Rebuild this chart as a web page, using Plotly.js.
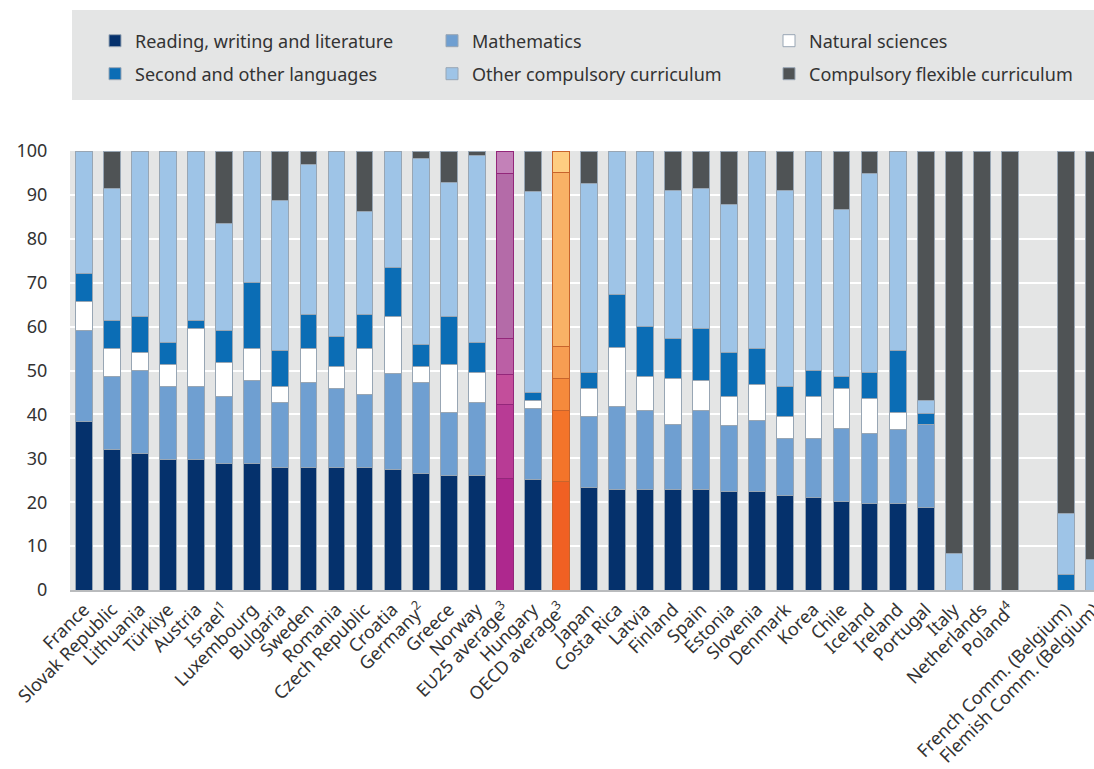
<!DOCTYPE html>
<html>
<head>
<meta charset="utf-8">
<script src="https://cdn.plot.ly/plotly-3.0.1.min.js"></script>
<style>html,body{margin:0;padding:0;background:#fff;}#chart{width:1094px;height:769px;}</style>
</head>
<body>
<div id="chart"></div>
<script>
// Categories (a blank slot separates Poland from the Belgian communities)
const categories = ["France","Slovak Republic","Lithuania","Türkiye","Austria","Israel<sup>1</sup>","Luxembourg","Bulgaria","Sweden","Romania","Czech Republic","Croatia","Germany<sup>2</sup>","Greece","Norway","EU25 average<sup>3</sup>","Hungary","OECD average<sup>3</sup>","Japan","Costa Rica","Latvia","Finland","Spain","Estonia","Slovenia","Denmark","Korea","Chile","Iceland","Ireland","Portugal","Italy","Netherlands","Poland<sup>4</sup>"," ","French Comm. (Belgium)","Flemish Comm. (Belgium)"];

// Share of instruction time (%) by subject
const reading   = [38.3,32.0,31.1,29.7,29.7,28.8,28.8,27.9,27.9,27.9,27.9,27.4,26.5,26.0,26.0,25.5,25.1,24.7,23.3,22.9,22.9,22.9,22.9,22.4,22.4,21.5,21.0,20.1,19.7,19.7,18.8,null,null,null,null,null,null];
const mathematics = [20.7,16.6,18.9,16.7,16.7,15.3,18.9,14.8,19.4,18.0,16.6,22.0,20.7,14.5,16.7,16.8,16.2,16.3,16.2,18.9,18.0,14.9,18.0,15.0,16.3,13.1,13.6,16.8,15.9,16.8,19.0,null,null,null,null,null,null];
const sciences  = [6.7,6.3,4.1,4.9,13.1,7.7,7.2,3.7,7.6,4.9,10.4,12.8,3.7,10.8,6.9,6.7,1.8,7.2,6.4,13.5,7.7,10.4,6.8,6.7,8.1,4.9,9.5,9.0,8.1,4.0,null,null,null,null,null,null,null];
const languages = [6.5,6.4,8.1,5.1,1.8,7.2,15.1,8.1,7.8,6.9,7.8,11.3,5.0,10.9,6.8,8.2,1.9,7.2,3.7,11.9,11.4,9.0,11.8,10.1,8.1,6.9,5.9,2.7,5.9,14.0,2.3,null,null,null,null,3.5,null];
const otherCompulsory = [27.8,30.2,37.8,43.6,38.7,24.5,30.0,34.3,34.3,42.3,23.5,26.5,42.5,30.7,42.5,37.6,45.7,39.7,42.9,32.8,40.0,33.9,32.0,33.7,45.1,44.7,50.0,38.0,45.2,45.5,3.1,8.4,null,null,null,13.9,6.9];
const flexible  = [null,8.5,null,null,null,16.5,null,11.2,3.0,null,13.8,null,1.6,7.1,1.1,5.2,9.3,4.9,7.5,null,null,8.9,8.5,12.1,null,8.9,null,13.4,5.2,null,56.8,91.6,100,100,null,82.6,93.1];

const seriesNames = ["Reading, writing and literature","Mathematics","Natural sciences","Second and other languages","Other compulsory curriculum","Compulsory flexible curriculum"];
const baseColors  = ["#05316c","#6f9fd1","#ffffff","#0b6db5","#9ec4e7","#4f5355"];
const euColors    = ["#ae288e","#b83b95","#c34e9b","#bb5fa5","#b46ba8","#c381b8"];
const oecdColors  = ["#f06023","#f3742a","#f58a3c","#f79d52","#f9b266","#fecd81"];
const seriesData = [reading, mathematics, sciences, languages, otherCompulsory, flexible];

const EU = categories.indexOf("EU25 average<sup>3</sup>");
const OECD = categories.indexOf("OECD average<sup>3</sup>");

const traces = seriesData.map((vals, k) => {
  const colors = categories.map((c, i) => i === EU ? euColors[k] : (i === OECD ? oecdColors[k] : baseColors[k]));
  const lineColors = categories.map((c, i) => i === EU ? "#93277a" : (i === OECD ? "#c8642c" : "#98a6b4"));
  return {
    type: "bar",
    name: seriesNames[k],
    x: categories,
    y: vals,
    width: 0.6,
    marker: {color: colors, line: {color: lineColors, width: 1}},
    legend: k < 3 ? "legend" : "legend2",
    hoverinfo: "x+y+name"
  };
});

const PX0 = 70, PW = 1024, PT = 151, PH = 439;
const px = v => (v - PX0) / PW;
const py = v => (PT + PH - v) / PH;

const legendCommon = {
  orientation: "h",
  traceorder: "normal",
  bgcolor: "rgba(0,0,0,0)",
  font: {family: "Noto Sans, sans-serif", size: 18, color: "#333333"},
  entrywidth: 292,
  entrywidthmode: "pixels",
  xanchor: "left",
  yanchor: "middle",
  itemclick: false,
  itemdoubleclick: false
};

const layout = {
  width: 1094,
  height: 769,
  margin: {l: 70, r: 0, t: 151, b: 179, pad: 0, autoexpand: false},
  barmode: "stack",
  paper_bgcolor: "#ffffff",
  plot_bgcolor: "#e4e5e5",
  font: {family: "Noto Sans, sans-serif", size: 18, color: "#333333"},
  legend: Object.assign({}, legendCommon, {x: px(95), y: py(41)}),
  legend2: Object.assign({}, legendCommon, {x: px(95), y: py(74)}),
  xaxis: {
    type: "category",
    range: [-0.5, 36.0],
    tickangle: -45,
    showgrid: false,
    showline: true,
    linecolor: "#b9bbbd",
    linewidth: 2,
    ticks: "",
    tickfont: {family: "Noto Sans, sans-serif", size: 18, color: "#333333"},
    automargin: false,
    fixedrange: true
  },
  yaxis: {
    range: [0, 100],
    tickvals: [0,10,20,30,40,50,60,70,80,90,100],
    showgrid: true,
    gridcolor: "#ffffff",
    gridwidth: 1.5,
    zeroline: false,
    showline: false,
    ticks: "outside",
    ticklen: 18,
    tickcolor: "rgba(0,0,0,0)",
    tickfont: {family: "Noto Sans, sans-serif", size: 18, color: "#333333"},
    automargin: false,
    fixedrange: true
  },
  shapes: [{
    type: "rect", xref: "paper", yref: "paper",
    x0: px(72), x1: 1, y0: py(100), y1: py(10),
    fillcolor: "#e4e5e5", line: {width: 0}, layer: "below"
  }],
  showlegend: true
};

Plotly.newPlot("chart", traces, layout, {displayModeBar: false, staticPlot: false});
</script>
</body>
</html>
